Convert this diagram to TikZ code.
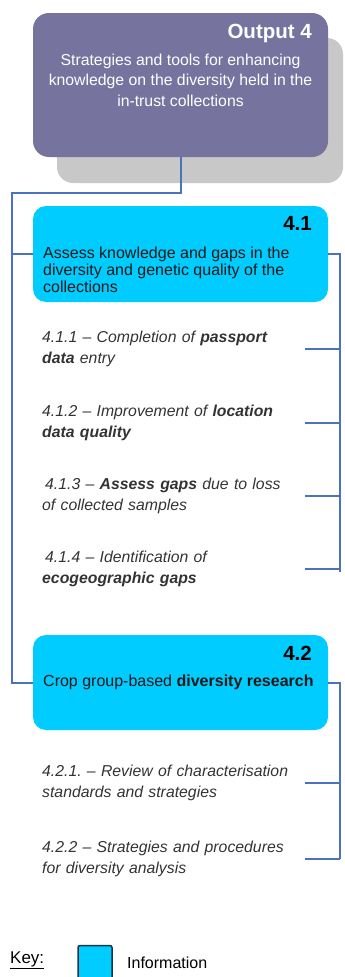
\documentclass[tikz,border=0pt]{standalone}
\usepackage{fontspec}
\setmainfont{Liberation Sans}
\definecolor{purp}{HTML}{76739F}
\definecolor{shadowgray}{HTML}{C8C8C8}
\definecolor{infocyan}{HTML}{00CCFF}
\definecolor{connblue}{HTML}{4A72BE}
\definecolor{subgray}{HTML}{333333}
\definecolor{keyborder}{HTML}{1E3440}
\begin{document}
\begin{tikzpicture}[x=1pt,y=-1pt,
  conn/.style={draw=connblue,line width=2pt},
  outbox/.style={fill=purp,rounded corners=16pt,minimum width=295pt,minimum height=144pt,inner sep=0pt},
  infobox/.style={fill=infocyan,rounded corners=13pt,minimum width=295pt,minimum height=96pt,inner sep=0pt},
  numlbl/.style={font=\fontsize{20.5}{22}\selectfont\bfseries,inner sep=0pt,anchor=east},
  boxtxt/.style={font=\fontsize{16}{17}\selectfont,inner sep=0pt,anchor=west,align=left,text=black!90},
  subitem/.style={font=\fontsize{15.8}{21.5}\selectfont\itshape,inner sep=0pt,anchor=west,text width=263pt,align=left,text=subgray}
]
\useasboundingbox (0,0) rectangle (345,977);
\clip (0,0) rectangle (345,977);
% Output 4
\fill[shadowgray,rounded corners=16pt] (57,38) rectangle (343,183);
\node[outbox] (o4) at (180.5,85) {};
\node[numlbl,text=white] (o4lbl) at (312,33) {Output 4};
\node[font=\fontsize{15.8}{20.5}\selectfont,text=white,align=center,inner sep=0pt] (o4txt) at (180.5,80)
  {Strategies and tools for enhancing\\knowledge on the diversity held in the\\in-trust collections};
% 4.1
\node[infobox] (b41) at (180.5,254) {};
\node[numlbl] (l41) at (312,223) {4.1};
\node[boxtxt] (t41) at (43,270) {Assess knowledge and gaps in the\\diversity and genetic quality of the\\collections};
% sub items 4.1
\node[subitem] (s411) at (42,349) {4.1.1 -- Completion of \textbf{passport}\\\textbf{data} entry};
\node[subitem] (s412) at (42,423) {4.1.2 -- Improvement of \textbf{location}\\\textbf{data quality}};
\node[subitem] (s413) at (42,496) {\hspace{3pt}4.1.3 -- \textbf{Assess gaps} due to loss\\of collected samples};
\node[subitem] (s414) at (42,569) {\hspace{3pt}4.1.4 -- Identification of\\\textbf{ecogeographic gaps}};
% 4.2
\node[infobox,minimum height=95pt] (b42) at (180.5,682.5) {};
\node[numlbl] (l42) at (312,653) {4.2};
\node[boxtxt] (t42) at (43,682) {Crop group-based \textbf{diversity research}};
% sub items 4.2
\node[subitem] (s421) at (42,783) {4.2.1.\ -- Review of characterisation\\standards and strategies};
\node[subitem] (s422) at (42,859) {4.2.2 -- Strategies and procedures\\for diversity analysis};
% connectors left
\coordinate (lt) at (12,193);
\draw[conn] (o4.south) |- (lt) |- (b41.west);
\draw[conn] (lt) |- (b42.west);
% right rail 4.1
\coordinate (r1) at (340,572);
\draw[conn] (b41.east) -| (r1);
\draw[conn] (s411.east) -- (s411.east -| r1);
\draw[conn] (s412.east) -- (s412.east -| r1);
\draw[conn] (s413.east) -- (s413.east -| r1);
\draw[conn] (s414.east) -- (s414.east -| r1);
% right rail 4.2
\coordinate (r2) at (340,859);
\draw[conn] (b42.east) -| (r2);
\draw[conn] (s421.east) -- (s421.east -| r2);
\draw[conn] (s422.east) -- (s422.east -| r2);
% key
\node[font=\fontsize{17}{19}\selectfont,anchor=west,inner sep=0pt] (key) at (10,960) {\underline{Key:}};
\node[fill=infocyan,draw=keyborder,line width=1.5pt,rounded corners=2pt,minimum width=34pt,minimum height=45pt,inner sep=0pt] (kbox) at (95,968) {};
\node[font=\fontsize{16}{18}\selectfont,anchor=west,inner sep=0pt] (info) at (127,963) {Information};
\end{tikzpicture}
\end{document}
